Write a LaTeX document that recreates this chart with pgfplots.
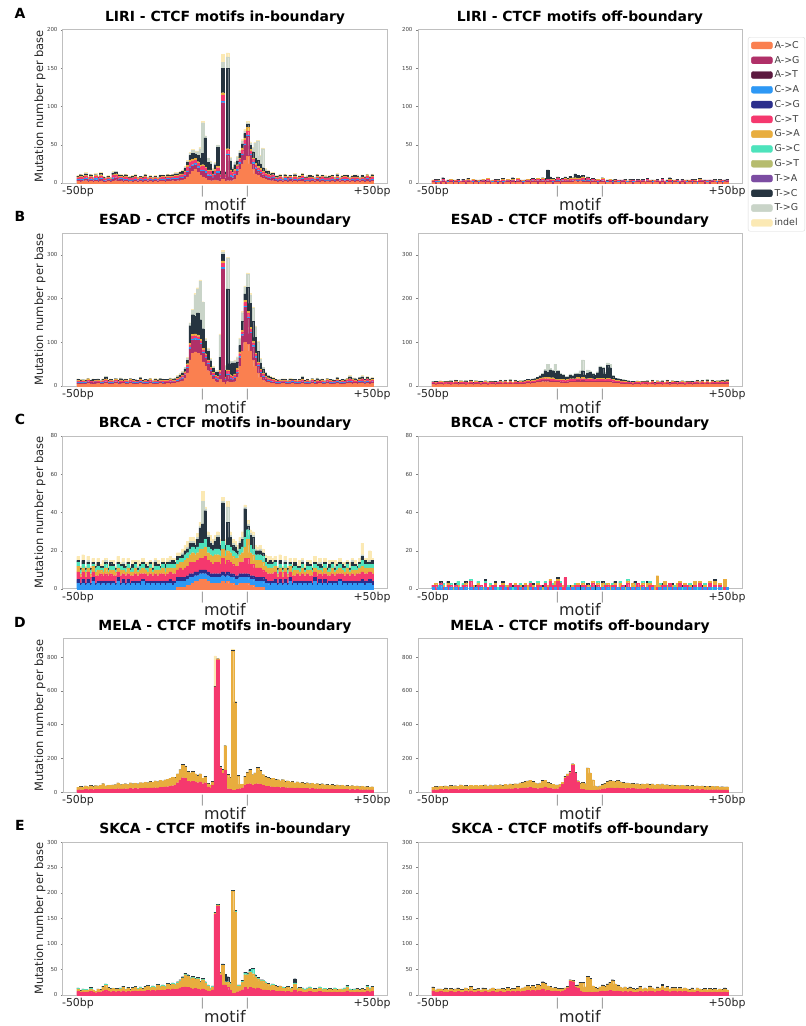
\documentclass[border=0pt]{standalone}
\usepackage{fontspec}
\setmainfont{DejaVu Sans}
\usepackage{pgfplots}
\usepackage{pgfplotstable}
\pgfplotsset{compat=1.18}
\usepgfplotslibrary{groupplots}

\definecolor{cAC}{RGB}{250,128,80}
\definecolor{cAG}{RGB}{176,48,104}
\definecolor{cAT}{RGB}{92,26,64}
\definecolor{cCA}{RGB}{45,152,245}
\definecolor{cCG}{RGB}{43,46,140}
\definecolor{cCT}{RGB}{245,56,110}
\definecolor{cGA}{RGB}{232,173,62}
\definecolor{cGC}{RGB}{77,227,188}
\definecolor{cGT}{RGB}{182,188,110}
\definecolor{cTA}{RGB}{124,77,162}
\definecolor{cTC}{RGB}{38,52,64}
\definecolor{cTG}{RGB}{201,212,200}
\definecolor{cID}{RGB}{251,233,180}

% positions: 0..49 = -50..-1 bp, 50..68 = motif, 69..118 = +1..+50 bp
% LIRI in-boundary
\pgfplotstableread[row sep=\\]{
x ac ag ca ct ga tc tg id\\
0 2 2 1 2 1 1 0 1\\ 1 1 3 1 3 1 2 0 1\\ 2 2 1 2 2 1 1 1 1\\ 3 3 2 1 3 1 2 1 1\\ 4 1 2 1 1 1 1 0 1\\
5 2 2 1 3 1 2 0 1\\ 6 1 1 1 2 1 1 0 0\\ 7 2 2 2 3 1 1 1 1\\ 8 1 2 1 2 1 1 0 1\\ 9 2 3 1 3 2 2 0 1\\
10 1 2 1 2 1 1 0 1\\ 11 1 1 1 2 1 1 0 0\\ 12 2 2 1 2 1 1 0 1\\ 13 1 2 1 1 1 1 0 0\\ 14 2 3 2 3 1 2 1 1\\
15 3 3 1 3 2 2 1 1\\ 16 2 2 1 3 1 2 0 1\\ 17 2 3 1 2 1 1 1 1\\ 18 1 2 2 2 1 1 0 1\\ 19 2 2 1 3 1 2 0 1\\
20 1 2 1 2 1 1 0 0\\ 21 2 1 1 2 1 1 0 1\\ 22 1 2 1 2 1 2 0 1\\ 23 2 2 1 3 1 1 1 1\\ 24 1 1 1 2 1 1 0 1\\
25 2 2 1 2 1 1 0 0\\ 26 1 2 1 2 1 1 0 1\\ 27 2 2 1 3 1 2 0 1\\ 28 1 1 1 2 1 1 0 0\\ 29 2 2 1 2 1 1 0 1\\
30 1 2 1 1 1 1 0 1\\ 31 2 2 1 2 1 1 0 1\\ 32 1 1 1 2 1 1 0 0\\ 33 2 2 1 2 1 2 0 1\\ 34 2 2 1 3 1 1 0 1\\
35 1 2 1 2 1 1 1 1\\ 36 2 3 1 2 1 2 0 1\\ 37 2 2 1 3 1 1 0 1\\ 38 3 2 1 2 1 2 0 1\\ 39 2 3 1 3 1 2 1 1\\
40 3 2 1 3 1 2 1 1\\ 41 3 4 1 2 2 2 0 1\\ 42 4 2 2 3 1 3 1 1\\ 43 5 4 1 4 2 3 2 1\\ 44 8 6 2 5 2 4 2 1\\
45 12 7 2 6 3 6 3 1\\ 46 15 7 2 5 2 8 4 1\\ 47 18 6 2 4 2 6 3 1\\ 48 14 6 2 4 2 8 5 1\\ 49 10 5 2 4 2 10 12 2\\
50 8 7 2 5 2 15 40 2\\ 51 6 7 2 4 2 38 2 1\\ 52 4 5 2 4 2 10 5 1\\ 53 3 6 2 4 2 8 3 1\\ 54 3 4 1 3 1 4 2 1\\
55 4 6 2 4 2 6 2 1\\ 56 3 10 2 5 2 25 2 1\\ 57 2 4 1 3 1 4 1 1\\ 58 5 100 2 8 3 32 8 10\\ 59 2 4 1 3 1 3 1 1\\
60 3 33 2 5 2 105 15 5\\ 61 3 5 2 5 2 12 3 2\\ 62 3 4 2 4 1 4 2 1\\ 63 5 5 2 4 2 6 3 1\\ 64 10 6 2 4 2 5 5 1\\
65 18 7 2 4 2 6 3 1\\ 66 25 11 2 5 3 5 4 2\\ 67 30 19 2 5 3 6 3 2\\ 68 35 26 2 5 5 4 2 2\\ 69 25 11 2 4 2 5 3 2\\
70 18 7 2 4 2 8 5 1\\ 71 12 6 2 4 2 6 20 1\\ 72 10 5 2 3 2 8 25 1\\ 73 8 5 1 3 2 6 10 1\\ 74 6 4 1 3 1 5 25 1\\
75 5 3 1 3 1 3 2 1\\ 76 4 3 1 3 1 3 1 1\\ 77 3 2 1 3 1 2 1 1\\ 78 3 4 1 2 1 2 0 1\\ 79 2 2 1 2 1 1 0 1\\
80 1 2 1 2 1 2 0 1\\ 81 2 2 1 3 1 1 1 1\\ 82 1 1 1 2 1 1 0 0\\ 83 2 2 2 2 1 2 0 1\\ 84 1 2 1 2 1 1 0 1\\
85 2 3 1 2 1 1 0 1\\ 86 1 1 1 2 1 1 0 0\\ 87 2 2 1 3 1 2 1 1\\ 88 1 2 1 1 1 1 0 1\\ 89 2 2 1 2 1 1 0 1\\
90 2 3 1 3 1 2 0 1\\ 91 1 2 1 2 1 1 0 0\\ 92 2 1 1 2 1 1 1 1\\ 93 1 2 1 3 1 2 0 1\\ 94 2 2 1 2 1 1 0 1\\
95 1 1 1 2 1 1 0 0\\ 96 2 3 1 2 1 2 0 1\\ 97 1 2 1 2 1 1 0 1\\ 98 2 2 1 3 1 1 0 1\\ 99 1 2 1 2 1 1 1 1\\
100 2 1 1 2 1 1 0 0\\ 101 1 2 1 2 1 2 0 1\\ 102 2 2 1 3 1 1 0 1\\ 103 1 2 1 1 1 1 0 1\\ 104 2 3 1 2 1 2 1 1\\
105 1 1 1 2 1 1 0 0\\ 106 2 2 1 2 1 1 0 1\\ 107 1 2 2 3 1 1 0 1\\ 108 2 2 1 2 1 2 0 1\\ 109 1 1 1 2 1 1 0 0\\
110 2 2 1 2 1 1 0 1\\ 111 1 2 1 3 1 2 0 1\\ 112 2 2 1 2 1 1 1 1\\ 113 1 1 1 2 1 1 0 0\\ 114 2 2 1 2 1 2 0 1\\
115 1 2 1 2 1 1 0 1\\ 116 2 3 1 3 1 1 0 1\\ 117 1 2 1 2 1 1 0 1\\ 118 2 2 1 3 1 2 0 1\\
}\tAin

% LIRI off-boundary
\pgfplotstableread[row sep=\\]{
x ac ag ca ct ga tc\\
0 1 1 0 1 1 0\\ 1 0 1 1 2 0 1\\ 2 1 0 1 1 1 1\\ 3 0 1 0 1 1 0\\ 4 1 1 1 2 0 2\\
5 0 1 0 1 1 0\\ 6 1 0 1 1 0 1\\ 7 1 1 0 2 1 0\\ 8 0 1 1 1 0 1\\ 9 1 1 0 1 1 0\\
10 0 1 1 2 0 1\\ 11 1 0 0 1 1 0\\ 12 1 1 1 1 0 1\\ 13 0 1 0 2 1 0\\ 14 1 1 1 1 1 1\\
15 1 0 0 1 0 1\\ 16 0 1 1 2 1 0\\ 17 1 1 0 1 0 1\\ 18 0 1 1 1 1 0\\ 19 1 0 0 2 0 1\\
20 1 1 1 1 1 0\\ 21 0 1 0 1 0 2\\ 22 1 1 1 2 1 0\\ 23 0 1 0 1 0 1\\ 24 1 0 1 1 1 0\\
25 1 1 0 2 0 1\\ 26 0 1 1 1 1 1\\ 27 1 1 0 1 0 0\\ 28 0 1 1 2 1 1\\ 29 1 0 0 1 0 1\\
30 1 1 1 1 1 0\\ 31 0 1 0 2 0 1\\ 32 1 1 1 1 1 2\\ 33 0 0 0 1 0 1\\ 34 1 1 1 2 1 0\\
35 1 1 0 1 0 1\\ 36 0 1 1 1 1 0\\ 37 1 0 0 2 0 1\\ 38 1 1 1 1 1 0\\ 39 0 1 0 1 1 2\\
40 1 1 1 2 0 1\\ 41 1 1 0 1 1 1\\ 42 0 2 1 2 1 0\\ 43 1 1 0 1 0 2\\ 44 1 1 1 2 1 1\\
45 0 1 0 1 1 3\\ 46 1 1 1 2 0 12\\ 47 1 2 0 1 1 3\\ 48 0 1 1 2 1 1\\ 49 1 1 0 1 0 2\\
50 1 2 1 2 1 1\\ 51 0 1 0 1 1 2\\ 52 1 1 1 2 0 1\\ 53 1 2 0 2 1 2\\ 54 1 1 1 1 1 1\\
55 1 2 0 2 1 3\\ 56 1 1 1 2 1 1\\ 57 2 1 0 2 2 5\\ 58 1 2 1 1 1 4\\ 59 2 1 0 2 1 3\\
60 1 2 1 2 2 2\\ 61 1 1 0 1 1 2\\ 62 1 2 1 2 1 1\\ 63 0 1 0 1 1 2\\ 64 1 1 1 2 0 1\\
65 1 1 0 1 1 1\\ 66 0 1 1 2 1 0\\ 67 1 1 0 1 0 1\\ 68 1 1 1 2 1 1\\ 69 0 1 0 1 1 0\\
70 1 0 1 1 0 1\\ 71 1 1 0 2 1 0\\ 72 0 1 1 1 0 1\\ 73 1 1 0 1 1 1\\ 74 1 0 1 2 0 0\\
75 0 1 0 1 1 1\\ 76 1 1 1 1 0 0\\ 77 0 1 0 2 1 1\\ 78 1 0 1 1 0 0\\ 79 1 1 0 1 1 1\\
80 0 1 1 2 0 1\\ 81 1 0 0 1 1 0\\ 82 1 1 1 1 0 1\\ 83 0 1 0 2 1 0\\ 84 1 1 1 1 0 1\\
85 0 0 0 1 1 0\\ 86 1 1 1 2 0 1\\ 87 1 1 0 1 1 0\\ 88 0 1 1 1 0 1\\ 89 1 0 0 2 1 0\\
90 1 1 1 1 0 1\\ 91 0 1 0 1 1 0\\ 92 1 1 1 2 0 1\\ 93 0 1 0 1 1 0\\ 94 1 0 1 1 0 1\\
95 1 1 0 2 1 2\\ 96 0 1 1 1 0 1\\ 97 1 1 0 1 1 0\\ 98 1 0 1 2 0 1\\ 99 0 1 0 1 1 0\\
100 1 1 1 1 0 1\\ 101 0 1 0 2 1 0\\ 102 1 0 1 1 0 1\\ 103 1 1 0 1 1 0\\ 104 0 1 1 2 0 1\\
105 1 1 0 1 1 1\\ 106 0 0 1 1 0 0\\ 107 1 1 0 2 1 1\\ 108 1 1 1 1 0 0\\ 109 0 1 0 1 1 1\\
110 1 0 1 2 0 0\\ 111 0 1 0 1 1 1\\ 112 1 1 1 1 0 0\\ 113 1 0 0 2 1 1\\ 114 0 1 1 1 0 0\\
115 1 1 0 1 1 1\\ 116 0 1 1 2 0 0\\ 117 1 0 0 1 1 1\\ 118 1 1 1 1 0 1\\
}\tAoff

% ESAD in-boundary
\pgfplotstableread[row sep=\\]{
x ac ag ca ct ga tc tg id\\
0 5 2 1 3 2 2 1 1\\ 1 4 3 2 2 1 2 0 1\\ 2 5 2 1 3 2 1 1 0\\ 3 4 3 1 2 1 2 1 1\\ 4 6 2 2 3 2 2 0 1\\
5 5 3 1 2 1 1 1 0\\ 6 4 2 1 3 2 3 1 1\\ 7 5 3 2 2 1 2 0 1\\ 8 6 2 1 3 2 2 1 0\\ 9 4 3 1 2 1 1 1 1\\
10 5 2 2 3 2 2 0 1\\ 11 6 3 1 4 2 4 2 1\\ 12 5 2 1 2 1 2 1 0\\ 13 4 3 2 3 2 2 0 1\\ 14 5 2 1 2 1 1 1 1\\
15 6 3 1 3 2 2 1 0\\ 16 4 2 2 2 1 2 0 1\\ 17 5 3 1 3 2 3 1 1\\ 18 6 2 1 2 1 2 1 0\\ 19 4 3 2 3 2 2 0 1\\
20 5 2 1 2 1 1 1 1\\ 21 6 3 1 3 2 2 1 0\\ 22 5 2 2 3 1 2 0 1\\ 23 4 3 1 2 2 2 1 1\\ 24 5 2 1 3 1 1 1 0\\
25 6 3 2 3 2 3 1 1\\ 26 5 2 1 2 1 2 0 1\\ 27 4 3 1 3 2 2 1 0\\ 28 5 2 2 2 1 2 1 1\\ 29 6 3 1 3 2 2 0 1\\
30 5 2 1 2 1 1 1 0\\ 31 4 3 2 3 2 2 1 1\\ 32 5 2 1 3 1 2 0 1\\ 33 6 3 1 2 2 3 1 0\\ 34 5 2 2 3 1 2 1 1\\
35 5 3 1 2 2 2 0 1\\ 36 6 2 1 3 1 2 1 0\\ 37 5 3 2 3 2 2 1 1\\ 38 6 3 1 2 2 2 1 1\\ 39 6 2 1 3 2 3 1 1\\
40 8 3 2 3 2 3 2 1\\ 41 10 4 2 3 2 4 3 1\\ 42 12 5 2 4 2 5 3 1\\ 43 18 6 2 4 3 6 4 1\\ 44 30 10 3 5 3 8 5 2\\
45 60 25 3 6 4 40 5 2\\ 46 75 30 3 6 4 45 10 2\\ 47 78 28 3 6 4 40 50 3\\ 48 75 30 3 5 4 50 55 3\\ 49 70 25 3 5 4 45 88 3\\
50 55 20 3 5 3 45 60 2\\ 51 45 18 3 5 3 28 5 2\\ 52 35 15 3 4 3 20 5 2\\ 53 25 10 2 4 2 15 4 1\\ 54 15 8 2 4 2 10 3 1\\
55 10 6 2 4 2 8 3 1\\ 56 8 6 2 4 2 10 3 1\\ 57 15 10 3 5 3 30 50 3\\ 58 8 260 3 10 5 15 5 5\\ 59 5 8 2 4 2 15 10 2\\
60 10 15 3 6 3 185 70 3\\ 61 8 8 2 5 3 25 5 2\\ 62 8 6 2 5 2 30 3 1\\ 63 10 8 2 5 3 25 5 2\\ 64 20 10 2 5 3 15 10 2\\
65 45 20 3 6 4 15 15 2\\ 66 80 35 3 6 4 20 20 3\\ 67 100 80 3 8 5 15 15 3\\ 68 95 60 3 8 5 55 30 3\\ 69 80 40 3 7 4 55 20 3\\
70 60 30 3 6 4 45 30 3\\ 71 45 20 3 5 3 35 25 2\\ 72 30 15 2 5 3 25 20 2\\ 73 20 10 2 4 2 15 8 2\\ 74 14 7 2 4 2 10 4 1\\
75 10 5 2 4 2 6 3 1\\ 76 8 4 2 3 2 4 2 1\\ 77 7 3 2 3 2 3 1 1\\ 78 6 3 1 3 2 3 1 1\\ 79 5 2 1 3 2 2 1 1\\
80 4 3 2 2 1 2 0 1\\ 81 5 2 1 3 2 1 1 0\\ 82 6 3 1 2 1 2 1 1\\ 83 5 2 2 3 2 2 0 1\\ 84 4 3 1 2 1 1 1 0\\
85 5 2 1 3 2 3 1 1\\ 86 6 3 2 2 1 2 0 1\\ 87 5 2 1 3 2 2 1 0\\ 88 4 3 1 2 1 1 1 1\\ 89 5 2 2 3 2 2 0 1\\
90 6 3 1 4 2 4 2 1\\ 91 5 2 1 2 1 2 1 0\\ 92 4 3 2 3 2 2 0 1\\ 93 5 2 1 2 1 1 1 1\\ 94 6 3 1 3 2 2 1 0\\
95 4 2 2 2 1 2 0 1\\ 96 5 3 1 3 2 3 1 1\\ 97 6 2 1 2 1 2 1 0\\ 98 4 3 2 3 2 2 0 1\\ 99 5 2 1 2 1 1 1 1\\
100 6 3 1 3 2 2 1 0\\ 101 5 2 2 3 1 2 0 1\\ 102 4 3 1 2 2 2 1 1\\ 103 5 2 1 3 1 1 1 0\\ 104 6 3 2 3 2 3 1 1\\
105 5 2 1 2 1 2 0 1\\ 106 4 3 1 3 2 2 1 0\\ 107 5 2 2 2 1 2 1 1\\ 108 6 3 1 3 2 2 0 1\\ 109 7 3 1 4 2 4 2 1\\
110 5 3 2 3 2 2 1 1\\ 111 6 2 1 3 2 3 1 1\\ 112 5 3 1 2 1 2 1 0\\ 113 6 3 2 3 2 3 1 1\\ 114 7 3 1 4 2 4 2 1\\
115 5 2 1 3 2 2 1 1\\ 116 6 3 2 4 2 3 1 1\\ 117 5 3 1 3 2 2 1 1\\ 118 6 3 1 3 2 3 1 1\\
}\tBin

% ESAD off-boundary
\pgfplotstableread[row sep=\\]{
x ac ag ct ga tc tg\\
0 4 2 2 1 1 1\\ 1 3 1 3 2 2 0\\ 2 4 2 2 1 1 1\\ 3 5 1 3 2 1 0\\ 4 3 2 2 1 2 1\\
5 4 1 3 2 1 0\\ 6 5 2 2 1 1 1\\ 7 3 2 3 2 2 1\\ 8 4 1 2 1 1 0\\ 9 5 2 3 2 1 1\\
10 3 1 2 1 2 0\\ 11 4 2 3 2 1 1\\ 12 5 1 2 1 1 0\\ 13 3 2 3 2 2 1\\ 14 4 1 2 1 1 0\\
15 5 2 3 2 1 1\\ 16 3 1 2 1 2 0\\ 17 4 2 3 2 1 1\\ 18 5 2 2 1 1 0\\ 19 3 1 3 2 2 1\\
20 4 2 2 1 1 0\\ 21 5 1 3 2 1 1\\ 22 3 2 2 1 2 0\\ 23 4 1 3 2 1 1\\ 24 5 2 2 1 1 0\\
25 3 1 3 2 2 1\\ 26 4 2 2 1 1 0\\ 27 5 2 3 2 1 1\\ 28 4 1 2 1 2 0\\ 29 5 2 3 2 1 1\\
30 4 1 2 1 1 0\\ 31 5 2 3 2 2 1\\ 32 4 1 2 1 1 0\\ 33 5 2 3 2 1 1\\ 34 4 2 2 1 2 0\\
35 5 1 3 2 1 1\\ 36 4 2 3 1 2 1\\ 37 5 2 3 2 1 1\\ 38 6 2 3 2 2 1\\ 39 5 2 3 2 2 1\\
40 6 2 3 2 3 1\\ 41 7 2 3 2 3 1\\ 42 8 3 3 2 4 1\\ 43 9 3 4 2 5 2\\ 44 10 3 4 2 8 2\\
45 10 3 4 3 15 3\\ 46 10 3 4 3 12 18\\ 47 9 3 4 3 18 3\\ 48 9 3 4 3 16 2\\ 49 8 3 3 2 14 20\\
50 8 3 3 2 18 2\\ 51 7 3 3 2 12 3\\ 52 7 3 3 2 10 2\\ 53 6 3 3 2 6 2\\ 54 7 3 3 2 5 2\\
55 8 3 4 2 8 3\\ 56 8 3 4 2 6 2\\ 57 8 3 4 2 10 3\\ 58 9 4 4 3 8 2\\ 59 8 3 4 2 10 8\\
60 9 4 4 3 15 25\\ 61 8 3 4 2 8 3\\ 62 8 3 4 2 12 8\\ 63 9 3 4 2 14 3\\ 64 8 3 4 2 10 2\\
65 8 3 3 2 8 2\\ 66 9 3 4 2 12 3\\ 67 9 3 4 2 25 3\\ 68 9 3 4 2 22 4\\ 69 8 3 3 2 12 3\\
70 9 3 4 2 30 5\\ 71 8 3 4 2 25 8\\ 72 7 3 3 2 8 2\\ 73 6 2 3 2 5 1\\ 74 6 2 3 2 4 1\\
75 5 2 3 2 3 1\\ 76 5 2 3 2 2 1\\ 77 4 2 3 2 2 1\\ 78 5 2 2 1 2 1\\ 79 4 2 2 1 1 1\\
80 3 1 3 2 2 0\\ 81 4 2 2 1 1 1\\ 82 5 1 3 2 1 0\\ 83 3 2 2 1 2 1\\ 84 4 1 3 2 1 0\\
85 5 2 2 1 1 1\\ 86 3 2 3 2 2 1\\ 87 4 1 2 1 1 0\\ 88 5 2 3 2 1 1\\ 89 3 1 2 1 2 0\\
90 4 2 3 2 1 1\\ 91 5 1 2 1 1 0\\ 92 3 2 3 2 2 1\\ 93 4 1 2 1 1 0\\ 94 5 2 3 2 1 1\\
95 3 1 2 1 2 0\\ 96 4 2 3 2 1 1\\ 97 5 2 2 1 1 0\\ 98 3 1 3 2 2 1\\ 99 4 2 2 1 1 0\\
100 5 1 3 2 1 1\\ 101 3 2 2 1 2 0\\ 102 4 1 3 2 1 1\\ 103 5 2 2 1 1 0\\ 104 3 1 3 2 2 1\\
105 4 2 2 1 1 0\\ 106 5 2 3 2 1 1\\ 107 4 1 2 1 2 0\\ 108 5 2 3 2 1 1\\ 109 4 1 2 1 1 0\\
110 5 2 3 2 2 1\\ 111 4 1 2 1 1 0\\ 112 5 2 3 2 1 1\\ 113 4 2 2 1 2 0\\ 114 5 1 3 2 1 1\\
115 4 2 3 1 2 1\\ 116 5 2 3 2 1 1\\ 117 4 2 2 2 2 1\\ 118 5 2 3 2 2 1\\
}\tBoff

% BRCA in-boundary
\pgfplotstableread[row sep=\\]{
x ac ca cg ct ga gc tc tg id\\
0 0 3 2 4 3 2 1 0 2\\ 1 0 2 1 3 2 2 1 0 1\\ 2 0 3 2 4 2 2 2 0 3\\ 3 0 2 1 3 3 1 1 0 1\\ 4 0 3 2 4 2 2 1 1 2\\
5 0 2 1 3 2 2 1 0 1\\ 6 0 4 2 3 3 1 1 0 2\\ 7 0 2 1 4 2 2 1 0 1\\ 8 0 3 1 3 3 2 2 0 2\\ 9 0 2 2 4 2 1 1 0 1\\
10 0 3 1 3 2 2 1 0 3\\ 11 0 2 2 4 3 2 1 1 1\\ 12 0 3 1 3 2 1 1 0 2\\ 13 0 2 2 4 2 2 2 0 1\\ 14 0 3 1 3 3 2 1 0 2\\
15 0 2 1 4 2 1 1 0 1\\ 16 0 4 2 3 2 2 1 0 3\\ 17 0 2 1 4 3 2 1 0 1\\ 18 0 3 2 3 2 1 2 1 2\\ 19 0 2 1 4 2 2 1 0 1\\
20 0 3 2 3 3 2 1 0 2\\ 21 0 2 1 4 2 1 1 0 1\\ 22 0 3 1 3 2 2 2 0 2\\ 23 0 2 2 4 3 2 1 0 1\\ 24 0 3 1 3 2 1 1 1 3\\
25 0 2 2 4 2 2 1 0 1\\ 26 0 4 1 3 3 2 1 0 2\\ 27 0 2 2 4 2 1 2 0 1\\ 28 0 3 1 3 2 2 1 0 2\\ 29 0 2 2 4 3 2 1 0 1\\
30 0 3 1 3 2 1 1 0 3\\ 31 0 2 2 4 2 2 2 1 1\\ 32 0 3 1 3 3 2 1 0 2\\ 33 0 2 2 4 2 1 1 0 1\\ 34 0 3 1 4 3 2 1 0 2\\
35 0 2 2 3 2 2 2 0 1\\ 36 0 3 1 4 3 2 1 0 2\\ 37 0 3 2 4 2 2 1 1 2\\ 38 0 2 2 4 3 2 2 0 1\\ 39 0 3 1 4 3 2 1 0 2\\
40 1 3 2 4 3 2 2 0 2\\ 41 1 3 2 5 3 2 1 0 2\\ 42 1 3 2 4 4 2 2 1 2\\ 43 1 3 2 5 4 3 2 0 3\\ 44 2 3 2 5 4 3 2 1 3\\
45 2 4 2 6 4 3 3 1 2\\ 46 3 3 2 6 5 3 2 1 2\\ 47 4 3 2 5 4 3 2 1 2\\ 48 4 3 2 6 4 3 4 1 2\\ 49 5 3 2 6 5 3 8 1 2\\
50 5 3 2 6 5 3 10 12 5\\ 51 5 3 2 7 5 4 15 1 1\\ 52 4 3 2 6 4 3 5 1 2\\ 53 3 3 2 6 4 3 3 1 3\\ 54 3 3 2 5 4 3 3 1 2\\
55 3 3 2 6 4 3 4 1 2\\ 56 3 3 2 6 4 3 6 1 2\\ 57 3 3 2 5 4 3 3 1 2\\ 58 4 3 2 7 5 4 20 1 2\\ 59 3 3 2 5 4 3 3 1 2\\
60 4 3 2 6 5 3 12 8 3\\ 61 3 3 2 6 5 3 5 1 2\\ 62 3 3 2 5 4 3 3 1 2\\ 63 2 3 2 5 4 3 3 1 2\\ 64 2 3 2 5 4 2 2 1 2\\
65 3 3 2 6 4 3 3 1 2\\ 66 3 3 2 6 5 3 4 1 3\\ 67 3 3 2 8 6 5 15 1 1\\ 68 3 3 2 8 10 5 2 1 2\\ 69 2 3 2 6 6 4 5 1 2\\
70 2 3 2 6 5 3 6 1 2\\ 71 1 3 2 5 4 3 2 1 2\\ 72 1 3 2 5 4 3 2 0 2\\ 73 1 3 2 5 4 3 2 1 2\\ 74 1 3 2 4 4 3 2 0 2\\
75 0 3 2 4 3 2 2 0 2\\ 76 0 3 1 4 3 2 1 0 3\\ 77 0 2 2 4 3 2 2 0 2\\ 78 0 3 1 4 3 2 1 0 2\\ 79 0 3 2 4 3 2 1 0 2\\
80 0 2 1 3 2 2 1 0 1\\ 81 0 3 2 4 2 2 2 0 3\\ 82 0 2 1 3 3 1 1 0 1\\ 83 0 3 2 4 2 2 1 1 2\\ 84 0 2 1 3 2 2 1 0 1\\
85 0 4 2 3 3 1 1 0 2\\ 86 0 2 1 4 2 2 1 0 1\\ 87 0 3 1 3 3 2 2 0 2\\ 88 0 2 2 4 2 1 1 0 1\\ 89 0 3 1 3 2 2 1 0 3\\
90 0 2 2 4 3 2 1 1 1\\ 91 0 3 1 3 2 1 1 0 2\\ 92 0 2 2 4 2 2 2 0 1\\ 93 0 3 1 3 3 2 1 0 2\\ 94 0 2 1 4 2 1 1 0 1\\
95 0 4 2 3 2 2 1 0 3\\ 96 0 2 1 4 3 2 1 0 1\\ 97 0 3 2 3 2 1 2 1 2\\ 98 0 2 1 4 2 2 1 0 1\\ 99 0 3 2 3 3 2 1 0 2\\
100 0 2 1 4 2 1 1 0 1\\ 101 0 3 1 3 2 2 2 0 2\\ 102 0 2 2 4 3 2 1 0 1\\ 103 0 3 1 3 2 1 1 1 3\\ 104 0 2 2 4 2 2 1 0 1\\
105 0 4 1 3 3 2 1 0 2\\ 106 0 2 2 4 2 1 2 0 1\\ 107 0 3 1 3 2 2 1 0 2\\ 108 0 2 2 4 3 2 1 0 1\\ 109 0 3 1 3 2 1 1 0 3\\
110 0 2 2 4 2 2 2 1 1\\ 111 0 3 1 3 3 2 1 0 2\\ 112 0 2 2 4 2 1 1 0 1\\ 113 0 3 1 4 3 2 1 0 2\\ 114 0 3 2 4 3 3 2 1 6\\
115 0 2 2 4 3 2 2 0 1\\ 116 0 3 1 4 3 2 1 0 2\\ 117 0 3 2 4 2 2 1 1 5\\ 118 0 2 2 4 3 2 2 0 1\\
}\tCin

% BRCA off-boundary
\pgfplotstableread[row sep=\\]{
x ca ct ga gc tc\\
0 1 1 0 0 0\\ 1 0 2 1 0 0\\ 2 1 0 0 1 0\\ 3 2 1 0 0 1\\ 4 0 1 1 1 0\\
5 1 0 0 0 0\\ 6 0 2 1 0 1\\ 7 1 1 0 1 0\\ 8 0 0 1 0 0\\ 9 1 1 0 0 1\\
10 0 1 1 2 0\\ 11 1 0 0 0 0\\ 12 0 2 0 1 0\\ 13 1 1 1 0 1\\ 14 0 0 0 0 0\\
15 1 3 0 1 0\\ 16 0 1 1 0 0\\ 17 1 0 0 0 1\\ 18 0 2 1 1 0\\ 19 1 1 0 0 0\\
20 0 0 1 0 0\\ 21 1 2 0 1 1\\ 22 0 1 0 0 0\\ 23 1 0 1 1 0\\ 24 0 2 0 0 0\\
25 1 1 1 0 1\\ 26 0 0 0 1 0\\ 27 1 1 0 0 0\\ 28 0 2 1 0 1\\ 29 1 0 0 1 0\\
30 0 1 1 0 0\\ 31 1 2 0 0 0\\ 32 0 0 0 1 1\\ 33 1 1 1 0 0\\ 34 0 2 0 0 0\\
35 1 0 1 1 0\\ 36 0 1 0 0 1\\ 37 1 1 1 0 0\\ 38 0 0 2 0 0\\ 39 1 2 0 1 0\\
40 0 1 1 0 1\\ 41 1 0 0 0 0\\ 42 0 2 1 1 0\\ 43 1 1 0 0 0\\ 44 0 0 1 0 1\\
45 1 2 0 1 0\\ 46 0 1 1 0 0\\ 47 1 3 1 0 0\\ 48 0 2 0 1 0\\ 49 1 1 2 0 0\\
50 0 4 1 0 1\\ 51 1 2 0 1 0\\ 52 0 1 1 0 0\\ 53 0 6 0 0 0\\ 54 1 0 0 1 0\\
55 0 1 0 0 1\\ 56 1 0 1 0 0\\ 57 0 2 0 1 0\\ 58 1 1 1 0 0\\ 59 0 0 0 0 2\\
60 1 1 1 1 0\\ 61 0 2 0 0 0\\ 62 1 0 1 0 1\\ 63 0 1 0 1 0\\ 64 1 2 1 0 0\\
65 0 0 0 0 2\\ 66 1 1 1 1 0\\ 67 0 1 0 0 0\\ 68 1 0 2 0 1\\ 69 0 2 0 1 0\\
70 1 1 1 0 0\\ 71 0 0 2 0 0\\ 72 1 1 0 1 0\\ 73 0 2 1 0 1\\ 74 1 0 0 0 0\\
75 0 1 2 1 0\\ 76 1 1 0 0 0\\ 77 0 0 1 0 1\\ 78 1 2 1 1 0\\ 79 0 1 0 0 0\\
80 1 0 2 0 0\\ 81 0 1 1 1 1\\ 82 1 2 0 0 0\\ 83 0 0 2 0 0\\ 84 1 1 1 1 0\\
85 0 1 0 0 0\\ 86 1 0 2 0 1\\ 87 0 2 1 1 0\\ 88 1 1 0 0 0\\ 89 0 0 2 0 0\\
90 0 1 6 0 0\\ 91 1 0 1 1 0\\ 92 0 2 0 0 1\\ 93 1 1 2 0 0\\ 94 0 0 1 1 0\\
95 1 2 0 0 0\\ 96 0 1 1 0 1\\ 97 1 0 0 1 0\\ 98 0 1 2 0 0\\ 99 1 2 1 0 0\\
100 0 0 0 1 1\\ 101 1 1 1 0 0\\ 102 0 2 0 0 0\\ 103 1 0 1 1 0\\ 104 0 1 0 0 1\\
105 1 1 2 0 0\\ 106 0 0 0 1 0\\ 107 1 2 1 0 0\\ 108 0 1 0 0 1\\ 109 1 0 1 1 0\\
110 0 1 0 0 0\\ 111 1 2 1 0 0\\ 112 0 0 0 1 0\\ 113 1 1 2 0 1\\ 114 0 0 0 0 0\\
115 1 1 1 0 0\\ 116 0 0 0 1 0\\ 117 0 1 4 0 0\\ 118 1 0 0 0 0\\
}\tCoff

% MELA in-boundary
\pgfplotstableread[row sep=\\]{
x ct ga tc id\\
0 12 15 1 1\\ 1 14 18 1 1\\ 2 12 16 2 1\\ 3 15 20 1 1\\ 4 13 17 1 1\\
5 16 22 2 1\\ 6 14 18 1 1\\ 7 17 20 1 1\\ 8 15 19 2 1\\ 9 16 24 1 1\\
10 18 30 2 1\\ 11 15 20 1 1\\ 12 17 22 2 1\\ 13 16 24 1 1\\ 14 18 22 2 1\\
15 17 26 1 1\\ 16 20 32 2 1\\ 17 18 25 1 1\\ 18 19 26 2 1\\ 19 20 28 1 1\\
20 18 24 2 1\\ 21 21 32 1 1\\ 22 20 28 2 1\\ 23 22 30 1 1\\ 24 20 27 2 1\\
25 23 32 1 1\\ 26 22 30 2 1\\ 27 24 34 1 1\\ 28 23 31 2 1\\ 29 25 36 1 1\\
30 24 33 2 1\\ 31 26 38 2 1\\ 32 25 35 1 1\\ 33 28 40 2 1\\ 34 27 37 2 1\\
35 30 40 2 1\\ 36 32 42 2 1\\ 37 35 45 2 1\\ 38 38 48 2 1\\ 39 40 45 2 1\\
40 55 50 3 1\\ 41 70 60 3 2\\ 42 85 75 4 2\\ 43 80 70 4 2\\ 44 65 55 3 1\\
45 60 50 3 1\\ 46 65 55 4 1\\ 47 60 45 3 1\\ 48 55 40 6 1\\ 49 60 45 3 1\\
50 50 30 3 1\\ 51 55 35 3 1\\ 52 30 20 2 1\\ 53 25 15 2 1\\ 54 40 20 2 1\\
55 620 5 2 180\\ 56 785 3 2 2\\ 57 140 8 3 2\\ 58 110 20 5 2\\ 59 130 142 3 2\\
60 20 80 5 2\\ 61 15 70 3 2\\ 62 10 825 5 8\\ 63 10 515 10 2\\ 64 15 80 3 1\\
65 20 25 2 1\\ 66 25 20 2 1\\ 67 40 50 3 1\\ 68 45 70 3 1\\ 69 50 80 4 1\\
70 40 60 3 1\\ 71 45 65 3 1\\ 72 50 90 5 2\\ 73 45 80 4 1\\ 74 40 60 3 1\\
75 35 55 3 1\\ 76 35 50 3 1\\ 77 32 45 3 1\\ 78 30 50 2 1\\ 79 28 45 2 1\\
80 30 40 3 1\\ 81 26 38 2 1\\ 82 28 42 3 1\\ 83 25 35 2 1\\ 84 26 38 2 1\\
85 24 33 2 1\\ 86 25 36 3 1\\ 87 22 30 2 1\\ 88 24 34 2 1\\ 89 22 30 2 1\\
90 23 32 2 1\\ 91 21 28 2 1\\ 92 22 31 2 1\\ 93 20 27 2 1\\ 94 21 30 2 1\\
95 19 26 2 1\\ 96 20 28 2 1\\ 97 18 25 2 1\\ 98 20 27 2 1\\ 99 17 24 2 1\\
100 18 26 2 1\\ 101 17 23 1 1\\ 102 18 25 2 1\\ 103 16 22 1 1\\ 104 17 24 2 1\\
105 15 22 1 1\\ 106 16 23 2 1\\ 107 15 20 1 1\\ 108 16 22 2 1\\ 109 14 20 1 1\\
110 15 21 2 1\\ 111 14 19 1 1\\ 112 15 20 1 1\\ 113 13 18 1 1\\ 114 14 19 2 1\\
115 13 17 1 1\\ 116 14 18 1 1\\ 117 12 16 1 1\\ 118 13 17 1 1\\
}\tDin

% MELA off-boundary
\pgfplotstableread[row sep=\\]{
x ct ga tc\\
0 12 16 1\\ 1 14 18 1\\ 2 13 17 2\\ 3 15 19 1\\ 4 14 18 1\\
5 15 20 2\\ 6 13 18 1\\ 7 16 22 1\\ 8 15 20 2\\ 9 16 21 1\\
10 14 19 1\\ 11 17 23 2\\ 12 15 20 1\\ 13 16 22 1\\ 14 14 19 2\\
15 17 22 1\\ 16 15 21 1\\ 17 16 23 2\\ 18 15 20 1\\ 19 17 22 1\\
20 16 21 2\\ 21 18 24 1\\ 22 15 20 1\\ 23 17 23 2\\ 24 16 21 1\\
25 18 24 1\\ 26 17 22 2\\ 27 18 25 1\\ 28 16 22 1\\ 29 19 26 2\\
30 18 24 1\\ 31 20 27 1\\ 32 19 25 2\\ 33 21 28 1\\ 34 20 27 1\\
35 22 30 2\\ 36 24 32 2\\ 37 25 35 2\\ 38 26 38 2\\ 39 28 40 2\\
40 25 35 2\\ 41 22 30 2\\ 42 20 28 2\\ 43 22 30 2\\ 44 25 40 3\\
45 30 38 2\\ 46 25 30 2\\ 47 22 28 2\\ 48 20 25 2\\ 49 18 22 2\\
50 20 20 2\\ 51 30 15 2\\ 52 45 12 2\\ 53 80 10 3\\ 54 95 10 3\\
55 112 8 3\\ 56 160 6 2\\ 57 110 5 2\\ 58 60 5 2\\ 59 20 30 3\\
60 15 40 2\\ 61 12 35 2\\ 62 12 128 3\\ 63 10 100 3\\ 64 10 60 2\\
65 10 25 2\\ 66 12 18 2\\ 67 14 20 2\\ 68 18 25 2\\ 69 20 30 2\\
70 22 38 2\\ 71 25 42 3\\ 72 24 40 2\\ 73 22 38 2\\ 74 25 42 2\\
75 23 36 2\\ 76 22 34 2\\ 77 20 32 2\\ 78 22 30 2\\ 79 20 28 2\\
80 21 29 1\\ 81 19 27 2\\ 82 20 28 1\\ 83 18 26 2\\ 84 20 27 1\\
85 19 26 2\\ 86 21 28 1\\ 87 18 25 2\\ 88 20 27 1\\ 89 17 24 2\\
90 19 26 1\\ 91 18 24 2\\ 92 20 27 1\\ 93 17 23 2\\ 94 18 25 1\\
95 16 22 2\\ 96 18 24 1\\ 97 16 22 2\\ 98 17 23 1\\ 99 15 21 2\\
100 17 23 1\\ 101 15 21 2\\ 102 16 22 1\\ 103 14 20 2\\ 104 16 22 1\\
105 14 19 2\\ 106 15 21 1\\ 107 14 19 2\\ 108 15 20 1\\ 109 13 18 2\\
110 14 20 1\\ 111 13 18 2\\ 112 14 19 1\\ 113 13 17 2\\ 114 14 19 1\\
115 12 17 2\\ 116 13 18 1\\ 117 12 16 2\\ 118 13 17 1\\
}\tDoff

% SKCA in-boundary
\pgfplotstableread[row sep=\\]{
x ct ga gc tc\\
0 7 5 1 1\\ 1 5 3 0 1\\ 2 6 4 1 1\\ 3 5 5 1 0\\ 4 6 3 0 1\\
5 7 5 1 2\\ 6 5 4 0 1\\ 7 4 3 1 0\\ 8 6 5 0 1\\ 9 5 4 1 1\\
10 8 7 1 1\\ 11 10 9 2 1\\ 12 7 6 1 1\\ 13 6 5 1 1\\ 14 7 6 1 0\\
15 6 5 1 1\\ 16 7 5 0 1\\ 17 6 6 1 1\\ 18 8 7 1 1\\ 19 6 5 1 0\\
20 7 6 1 1\\ 21 6 4 0 1\\ 22 7 6 1 1\\ 23 8 7 1 1\\ 24 7 5 1 0\\
25 8 6 1 1\\ 26 7 5 0 1\\ 27 8 7 1 1\\ 28 9 8 1 1\\ 29 8 6 1 0\\
30 9 7 1 1\\ 31 8 6 1 1\\ 32 10 9 1 1\\ 33 9 7 1 1\\ 34 10 8 1 1\\
35 9 7 1 1\\ 36 11 10 1 1\\ 37 10 9 1 1\\ 38 12 10 1 1\\ 39 11 9 1 1\\
40 12 12 1 1\\ 41 14 14 1 1\\ 42 15 18 1 2\\ 43 16 24 1 2\\ 44 15 22 1 2\\
45 14 18 1 1\\ 46 12 22 1 2\\ 47 13 18 1 1\\ 48 12 20 1 2\\ 49 10 15 1 1\\
50 12 18 1 2\\ 51 10 14 1 1\\ 52 8 10 1 1\\ 53 7 5 1 1\\ 54 10 6 1 1\\
55 158 2 1 1\\ 56 175 1 1 1\\ 57 40 3 1 1\\ 58 20 38 1 2\\ 59 20 5 1 15\\
60 15 10 1 10\\ 61 10 12 1 2\\ 62 3 200 1 1\\ 63 3 160 1 2\\ 64 6 12 1 1\\
65 8 10 1 1\\ 66 10 15 2 2\\ 67 15 25 3 2\\ 68 12 28 2 2\\ 69 15 30 2 3\\
70 14 28 8 2\\ 71 12 24 2 2\\ 72 14 18 1 2\\ 73 12 16 1 1\\ 74 10 18 1 1\\
75 10 14 1 1\\ 76 9 12 1 1\\ 77 8 10 1 1\\ 78 9 11 1 1\\ 79 8 9 1 1\\
80 7 8 1 1\\ 81 8 9 0 1\\ 82 7 7 1 1\\ 83 6 7 1 1\\ 84 7 8 1 1\\
85 6 6 1 0\\ 86 6 7 1 1\\ 87 10 12 2 8\\ 88 6 6 1 1\\ 89 7 7 0 1\\
90 6 6 1 1\\ 91 5 5 1 1\\ 92 6 6 1 1\\ 93 7 7 1 1\\ 94 6 5 1 0\\
95 5 6 1 1\\ 96 6 5 0 1\\ 97 7 7 1 1\\ 98 5 5 1 1\\ 99 6 6 1 0\\
100 5 4 1 1\\ 101 6 5 1 1\\ 102 5 5 0 1\\ 103 6 6 1 1\\ 104 5 4 1 1\\
105 6 5 1 0\\ 106 5 5 1 1\\ 107 6 6 1 1\\ 108 8 8 2 1\\ 109 5 5 1 1\\
110 6 4 0 1\\ 111 5 5 1 1\\ 112 6 5 1 1\\ 113 5 4 1 1\\ 114 6 5 1 1\\
115 5 5 0 1\\ 116 8 8 2 1\\ 117 6 6 1 1\\ 118 7 8 1 1\\
}\tEin

% SKCA off-boundary
\pgfplotstableread[row sep=\\]{
x ct ga tc\\
0 8 6 2\\ 1 5 4 1\\ 2 6 5 1\\ 3 7 4 1\\ 4 5 5 1\\
5 6 6 2\\ 6 5 4 1\\ 7 7 5 1\\ 8 6 4 1\\ 9 5 6 1\\
10 7 5 2\\ 11 6 4 1\\ 12 5 5 1\\ 13 7 6 1\\ 14 6 4 1\\
15 8 7 2\\ 16 5 5 1\\ 17 6 4 1\\ 18 7 5 1\\ 19 5 4 1\\
20 6 6 2\\ 21 7 5 1\\ 22 5 4 1\\ 23 6 5 1\\ 24 7 6 1\\
25 5 4 2\\ 26 6 5 1\\ 27 7 4 1\\ 28 6 6 1\\ 29 5 5 1\\
30 7 6 2\\ 31 6 4 1\\ 32 7 5 1\\ 33 6 6 1\\ 34 8 7 2\\
35 6 5 1\\ 36 7 6 1\\ 37 8 7 1\\ 38 9 8 2\\ 39 8 6 1\\
40 9 8 2\\ 41 8 6 1\\ 42 10 9 2\\ 43 9 8 2\\ 44 12 12 2\\
45 8 14 2\\ 46 9 8 1\\ 47 8 7 2\\ 48 7 6 1\\ 49 8 6 1\\
50 7 5 1\\ 51 6 5 2\\ 52 8 4 1\\ 53 10 3 1\\ 54 14 2 1\\
55 27 2 1\\ 56 26 2 1\\ 57 15 3 1\\ 58 14 4 2\\ 59 8 15 2\\
60 6 18 1\\ 61 5 10 1\\ 62 5 30 2\\ 63 6 25 2\\ 64 5 12 1\\
65 6 8 1\\ 66 6 6 1\\ 67 7 8 1\\ 68 8 10 2\\ 69 7 9 1\\
70 8 12 2\\ 71 9 14 2\\ 72 8 20 2\\ 73 7 14 1\\ 74 8 10 2\\
75 7 8 1\\ 76 6 7 1\\ 77 7 8 1\\ 78 6 6 1\\ 79 7 7 2\\
80 6 6 1\\ 81 5 5 1\\ 82 6 6 1\\ 83 7 8 2\\ 84 6 5 1\\
85 7 6 1\\ 86 6 5 1\\ 87 8 8 2\\ 88 7 6 1\\ 89 6 5 1\\
90 8 6 2\\ 91 7 6 1\\ 92 9 8 4\\ 93 7 6 1\\ 94 8 7 2\\
95 6 5 1\\ 96 7 6 2\\ 97 8 6 1\\ 98 6 5 1\\ 99 7 6 2\\
100 6 5 1\\ 101 7 6 1\\ 102 6 5 1\\ 103 5 5 1\\ 104 6 6 2\\
105 5 4 1\\ 106 7 6 1\\ 107 6 5 1\\ 108 5 5 1\\ 109 6 5 2\\
110 5 4 1\\ 111 6 6 1\\ 112 5 5 1\\ 113 6 5 2\\ 114 5 4 1\\
115 6 5 1\\ 116 5 5 1\\ 117 6 6 2\\ 118 5 4 1\\
}\tEoff

\newcommand{\lay}[3]{\addplot[fill=#3, draw=#3, line width=0.1pt] table[x=x, y=#2] {#1};}
\newcommand{\sw}[2]{\addlegendimage{legend image code/.code={\fill[#1] (0bp,-3.5bp) rectangle (21bp,3.5bp);}}\addlegendentry{#2}}
\newcommand{\plab}[1]{\node[anchor=base, font=\bfseries\fontsize{14}{16}\selectfont] at (rel axis cs:-0.133,1.072) {#1};}

\pgfplotsset{
  panel/.style={
    width=324bp, height=153bp, scale only axis,
    ybar stacked, bar width=1, clip=false,
    xmin=-6, xmax=124, ymin=0,
    xtick={0,50,68,118},
    xticklabels={-50bp,\textcolor{black!45}{|},\textcolor{black!45}{|},+50bp},
    x tick label style={font=\fontsize{11}{12}\selectfont, text=black!85, yshift=2bp},
    xtick style={draw=none},
    y tick label style={font=\fontsize{5.5}{6}\selectfont, text=black!75},
    /pgf/number format/assume math mode=true,
    ytick pos=left,
    ytick style={draw=black!50, line width=0.4bp},
    tick align=outside, major tick length=2bp,
    axis line style={draw=black!25, line width=1bp},
    xlabel={motif},
    xlabel style={font=\fontsize{16}{18}\selectfont, text=black!85,
      at={(rel axis cs:0.5,0)}, anchor=base, yshift=-27bp},
    title style={at={(0.5,1)}, anchor=base, yshift=3bp, font=\bfseries\fontsize{14}{16}\selectfont},
  },
  lefty/.style={
    ylabel={Mutation number per base},
    ylabel style={font=\fontsize{11.5}{13}\selectfont, text=black!85, at={(axis description cs:-0.071,0.5)}, anchor=center},
  },
}

\begin{document}
\begin{tikzpicture}
\begin{groupplot}[group style={group size=2 by 5, horizontal sep=31bp, vertical sep=50bp}, panel]

\nextgroupplot[lefty, ymax=200, ytick={0,50,100,150,200}, title={LIRI - CTCF motifs in-boundary}]
\plab{A}
\lay{\tAin}{ac}{cAC}\lay{\tAin}{ag}{cAG}\lay{\tAin}{ca}{cCA}\lay{\tAin}{ct}{cCT}
\lay{\tAin}{ga}{cGA}\lay{\tAin}{tc}{cTC}\lay{\tAin}{tg}{cTG}\lay{\tAin}{id}{cID}

\nextgroupplot[ymax=200, ytick={0,50,100,150,200}, title={LIRI - CTCF motifs off-boundary},
  legend cell align=left,
  legend style={at={(1.0185,0.954)}, anchor=north west, font=\fontsize{9.5}{11}\selectfont,
    text=black!75, draw=black!15, rounded corners=2bp, row sep=2.3bp}]
\sw{cAC}{A->C}\sw{cAG}{A->G}\sw{cAT}{A->T}\sw{cCA}{C->A}\sw{cCG}{C->G}\sw{cCT}{C->T}
\sw{cGA}{G->A}\sw{cGC}{G->C}\sw{cGT}{G->T}\sw{cTA}{T->A}\sw{cTC}{T->C}\sw{cTG}{T->G}\sw{cID}{indel}
\lay{\tAoff}{ac}{cAC}\lay{\tAoff}{ag}{cAG}\lay{\tAoff}{ca}{cCA}\lay{\tAoff}{ct}{cCT}
\lay{\tAoff}{ga}{cGA}\lay{\tAoff}{tc}{cTC}

\nextgroupplot[lefty, ymax=350, ytick={0,100,200,300}, title={ESAD - CTCF motifs in-boundary}]
\plab{B}
\lay{\tBin}{ac}{cAC}\lay{\tBin}{ag}{cAG}\lay{\tBin}{ca}{cCA}\lay{\tBin}{ct}{cCT}
\lay{\tBin}{ga}{cGA}\lay{\tBin}{tc}{cTC}\lay{\tBin}{tg}{cTG}\lay{\tBin}{id}{cID}

\nextgroupplot[ymax=350, ytick={0,100,200,300}, title={ESAD - CTCF motifs off-boundary}]
\lay{\tBoff}{ac}{cAC}\lay{\tBoff}{ag}{cAG}\lay{\tBoff}{ct}{cCT}
\lay{\tBoff}{ga}{cGA}\lay{\tBoff}{tc}{cTC}\lay{\tBoff}{tg}{cTG}

\nextgroupplot[lefty, ymax=80, ytick={0,20,40,60,80}, title={BRCA - CTCF motifs in-boundary}]
\plab{C}
\lay{\tCin}{ac}{cAC}\lay{\tCin}{ca}{cCA}\lay{\tCin}{cg}{cCG}\lay{\tCin}{ct}{cCT}\lay{\tCin}{ga}{cGA}
\lay{\tCin}{gc}{cGC}\lay{\tCin}{tc}{cTC}\lay{\tCin}{tg}{cTG}\lay{\tCin}{id}{cID}

\nextgroupplot[ymax=80, ytick={0,20,40,60,80}, title={BRCA - CTCF motifs off-boundary}]
\lay{\tCoff}{ca}{cCA}\lay{\tCoff}{ct}{cCT}\lay{\tCoff}{ga}{cGA}\lay{\tCoff}{gc}{cGC}\lay{\tCoff}{tc}{cTC}

\nextgroupplot[lefty, ymax=907, ytick={0,200,400,600,800}, title={MELA - CTCF motifs in-boundary}]
\plab{D}
\lay{\tDin}{ct}{cCT}\lay{\tDin}{ga}{cGA}\lay{\tDin}{tc}{cTC}\lay{\tDin}{id}{cID}

\nextgroupplot[ymax=907, ytick={0,200,400,600,800}, title={MELA - CTCF motifs off-boundary}]
\lay{\tDoff}{ct}{cCT}\lay{\tDoff}{ga}{cGA}\lay{\tDoff}{tc}{cTC}

\nextgroupplot[lefty, ymax=300, ytick={0,50,100,150,200,250,300}, title={SKCA - CTCF motifs in-boundary}]
\plab{E}
\lay{\tEin}{ct}{cCT}\lay{\tEin}{ga}{cGA}\lay{\tEin}{gc}{cGC}\lay{\tEin}{tc}{cTC}

\nextgroupplot[ymax=300, ytick={0,50,100,150,200,250,300}, title={SKCA - CTCF motifs off-boundary}]
\lay{\tEoff}{ct}{cCT}\lay{\tEoff}{ga}{cGA}\lay{\tEoff}{tc}{cTC}

\end{groupplot}
\pgfresetboundingbox
\path[use as bounding box] (group c1r1.north west) ++(-63bp,30bp) rectangle ++(806bp,-1026bp);
\end{tikzpicture}
\end{document}
